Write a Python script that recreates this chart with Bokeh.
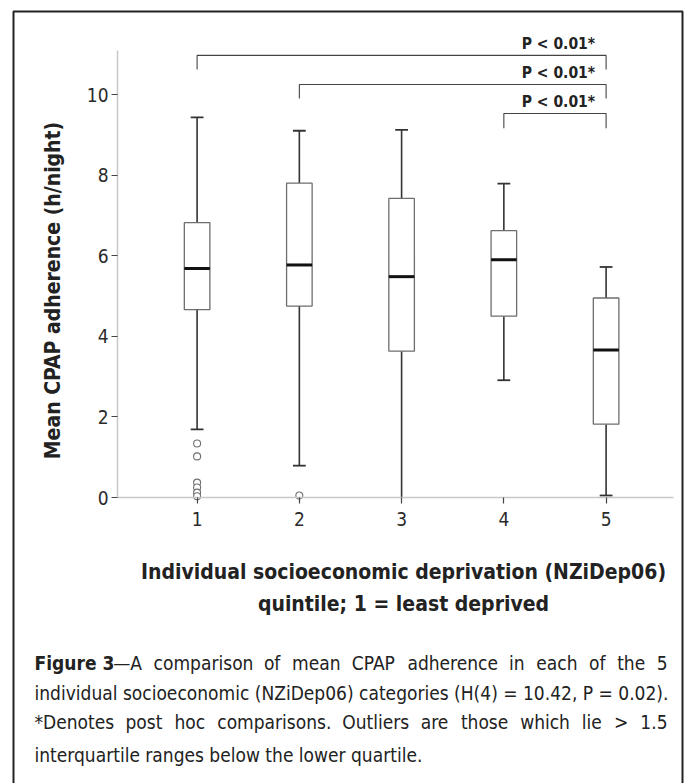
import math
from bokeh.plotting import figure
from bokeh.models import FixedTicker, Label, BoxAnnotation, Range1d
from bokeh.embed import file_html
from bokeh.resources import INLINE

# ---------------- data ----------------
groups = [1, 2, 3, 4, 5]
x_tick_labels = ["1", "2", "3", "4", "5"]
upper_whisker = [9.43, 9.10, 9.12, 7.79, 5.72]
q3 = [6.82, 7.80, 7.42, 6.62, 4.95]
median = [5.68, 5.77, 5.48, 5.90, 3.66]
q1 = [4.66, 4.75, 3.63, 4.50, 1.82]
lower_whisker = [1.69, 0.79, 0.0, 2.91, 0.05]
outlier_group = [1, 1, 1, 1, 1, 1, 2]
outlier_value = [1.34, 1.02, 0.37, 0.25, 0.12, 0.03, 0.05]
y_ticks = [0, 2, 4, 6, 8, 10]
comparison_from = [1, 2, 4]
comparison_to = [5, 5, 5]
comparison_text = ["P < 0.01*", "P < 0.01*", "P < 0.01*"]

x_title = ["Individual socioeconomic deprivation (NZiDep06)",
           "quintile; 1 = least deprived"]
y_title = "Mean CPAP adherence (h/night)"
caption_bold = "Figure 3"
caption_lines = [
    "\u2014A comparison of mean CPAP adherence in each of the 5",
    "individual socioeconomic (NZiDep06) categories (H(4) = 10.42, P = 0.02).",
    "*Denotes post hoc comparisons. Outliers are those which lie > 1.5",
    "interquartile ranges below the lower quartile.",
]

# ---------------- layout / style ----------------
FONT = "DejaVu Sans Condensed"
W, H = 689, 783
X1_PX, X_STEP = 196.6, 102.25      # pixel of group 1, pixels per group
Y0_PX, Y_STEP = 497.0, 40.3        # pixel of y=0, pixels per hour
X_AXIS = (0.222, 5.66)             # extent of the drawn x axis line
Y_AXIS = (0.0, 11.09)              # extent of the drawn y axis line
bracket_level = [10.97, 10.25, 9.53]
bracket_drop = [0.35, 0.35, 0.37]
BOX_W = 0.25
CAP_W = 0.125
TXT = "#222222"
CAP_SIZE = 19
CAP_LEFT, CAP_RIGHT = 34, 667
cap_y = [662, 692, 721, 754]

# approximate advance widths of DejaVu Sans (1/2048 em), used to justify the caption
_W = {" ": 651, "*": 1024, ".": 651, ",": 651, ">": 1716, "=": 1716, "(": 799, ")": 799,
      "\u2014": 2048, "A": 1401, "C": 1430, "D": 1577, "O": 1612, "P": 1235,
      "a": 1255, "b": 1300, "c": 1126, "d": 1300, "e": 1260, "f": 721, "g": 1300,
      "h": 1298, "i": 569, "j": 569, "k": 1186, "l": 569, "m": 1995, "n": 1298,
      "o": 1253, "p": 1300, "q": 1300, "r": 842, "s": 1067, "t": 803, "u": 1298,
      "v": 1212, "w": 1675, "x": 1212, "y": 1212, "z": 1075}
_WB = {" ": 713, "F": 1298, "i": 702, "g": 1466, "u": 1458, "r": 1010, "e": 1389, "3": 1425}
COND = 0.886


def text_w(s, size, bold=False):
    tbl = _WB if bold else _W
    return sum(tbl.get(c, 1303) for c in s) / 2048.0 * COND * size


def sy(page_y):
    """page pixel row -> screen units (from bottom of canvas)"""
    return H - page_y


p = figure(width=W, height=H, output_backend="svg", toolbar_location=None,
           x_range=Range1d(1 - X1_PX / X_STEP, 1 + (W - X1_PX) / X_STEP),
           y_range=Range1d(-(H - Y0_PX) / Y_STEP, Y0_PX / Y_STEP),
           min_border_left=0, min_border_right=0, min_border_top=0, min_border_bottom=0)
p.xgrid.visible = False
p.ygrid.visible = False
p.outline_line_color = None
p.background_fill_color = "white"
p.border_fill_color = "white"

for ax in (p.xaxis, p.yaxis):
    ax.axis_line_color = "#c8c8c8"
    ax.axis_line_width = 1.5
    ax.major_tick_line_color = "#444444"
    ax.major_tick_line_width = 1.2
    ax.major_tick_in = 0
    ax.major_tick_out = 6
    ax.minor_tick_line_color = None
    ax.major_label_text_font = FONT
    ax.major_label_text_font_size = "19px"
    ax.major_label_text_color = "#2a2a2a"
p.xaxis.fixed_location = Y_AXIS[0]
p.xaxis.bounds = X_AXIS
p.xaxis.ticker = FixedTicker(ticks=groups)
p.xaxis.major_label_overrides = {g: t for g, t in zip(groups, x_tick_labels)}
p.xaxis.major_label_standoff = 8
p.yaxis.fixed_location = X_AXIS[0]
p.yaxis.bounds = Y_AXIS
p.yaxis.ticker = FixedTicker(ticks=y_ticks)
p.yaxis.major_label_standoff = 3

# whiskers
p.segment(x0=groups, x1=groups, y0=q3, y1=upper_whisker, line_color="#333333", line_width=1.6)
p.segment(x0=groups, x1=groups, y0=q1, y1=lower_whisker, line_color="#333333", line_width=1.6)
# caps
p.segment(x0=[g - CAP_W / 2 for g in groups], x1=[g + CAP_W / 2 for g in groups],
          y0=upper_whisker, y1=upper_whisker, line_color="#333333", line_width=1.8)
cap_lo = [(g, v) for g, v in zip(groups, lower_whisker) if v > 0]
p.segment(x0=[g - CAP_W / 2 for g, v in cap_lo], x1=[g + CAP_W / 2 for g, v in cap_lo],
          y0=[v for g, v in cap_lo], y1=[v for g, v in cap_lo], line_color="#333333", line_width=1.8)
# boxes
p.vbar(x=groups, width=BOX_W, top=q3, bottom=q1, fill_color="white",
       line_color="#6e6e6e", line_width=1.3)
# medians
p.segment(x0=[g - BOX_W / 2 for g in groups], x1=[g + BOX_W / 2 for g in groups],
          y0=median, y1=median, line_color="#111111", line_width=3)
# outliers
p.scatter(outlier_group, outlier_value, marker="circle", size=7,
          fill_color="white", line_color="#707070", line_width=1.1)

# comparison brackets
bx, by = [], []
for a, b, lv, dr in zip(comparison_from, comparison_to, bracket_level, bracket_drop):
    bx.append([a, a, b, b])
    by.append([lv - dr, lv, lv, lv - dr])
p.multi_line(bx, by, line_color="#444444", line_width=1.1)
for b, lv, t in zip(comparison_to, bracket_level, comparison_text):
    p.add_layout(Label(x=b, y=lv, x_offset=-11, y_offset=2, text=t,
                       text_align="right", text_baseline="bottom",
                       text_font=FONT, text_font_style="bold",
                       text_font_size="15.5px", text_color=TXT))

# outer frame (screen units, y measured from the bottom)
p.add_layout(BoxAnnotation(left=13, right=682, top=sy(11), bottom=-20,
                           left_units="screen", right_units="screen",
                           top_units="screen", bottom_units="screen",
                           fill_color=None, fill_alpha=0, line_color="#222222",
                           line_alpha=1.0, line_width=2))

# axis titles
p.add_layout(Label(x=52, y=sy(290), x_units="screen", y_units="screen", text=y_title,
                   angle=math.pi / 2, text_align="center", text_baseline="middle",
                   text_font=FONT, text_font_style="bold", text_font_size="21px",
                   text_color=TXT))
for t, yy in zip(x_title, [571, 603]):
    p.add_layout(Label(x=403, y=sy(yy), x_units="screen", y_units="screen", text=t,
                       text_align="center", text_baseline="middle",
                       text_font=FONT, text_font_style="bold", text_font_size="21px",
                       text_color=TXT))


def cap_label(t, x, yy, align="left", bold=False):
    p.add_layout(Label(x=x, y=sy(yy), x_units="screen", y_units="screen", text=t,
                       text_align=align, text_baseline="middle", text_font=FONT,
                       text_font_style="bold" if bold else "normal",
                       text_font_size=f"{CAP_SIZE}px", text_color=TXT))


def justified(line, x0, x1, yy):
    words = line.split(" ")
    widths = [text_w(w, CAP_SIZE) for w in words]
    gap = (x1 - x0 - sum(widths)) / (len(words) - 1)
    x = x0
    for i, (wd, ww) in enumerate(zip(words, widths)):
        if i == len(words) - 1:
            cap_label(wd, x1, yy, align="right")
        else:
            cap_label(wd, x, yy)
        x += ww + gap


# caption (justified like the printed figure legend)
cap_label(caption_bold, CAP_LEFT, cap_y[0], bold=True)
justified(caption_lines[0], CAP_LEFT + text_w(caption_bold, CAP_SIZE, bold=True) + 1,
          CAP_RIGHT, cap_y[0])
cap_label(caption_lines[1], CAP_LEFT, cap_y[1])
justified(caption_lines[2], CAP_LEFT, CAP_RIGHT, cap_y[2])
cap_label(caption_lines[3], CAP_LEFT, cap_y[3])

open("out.html", "w").write(file_html(p, INLINE))
